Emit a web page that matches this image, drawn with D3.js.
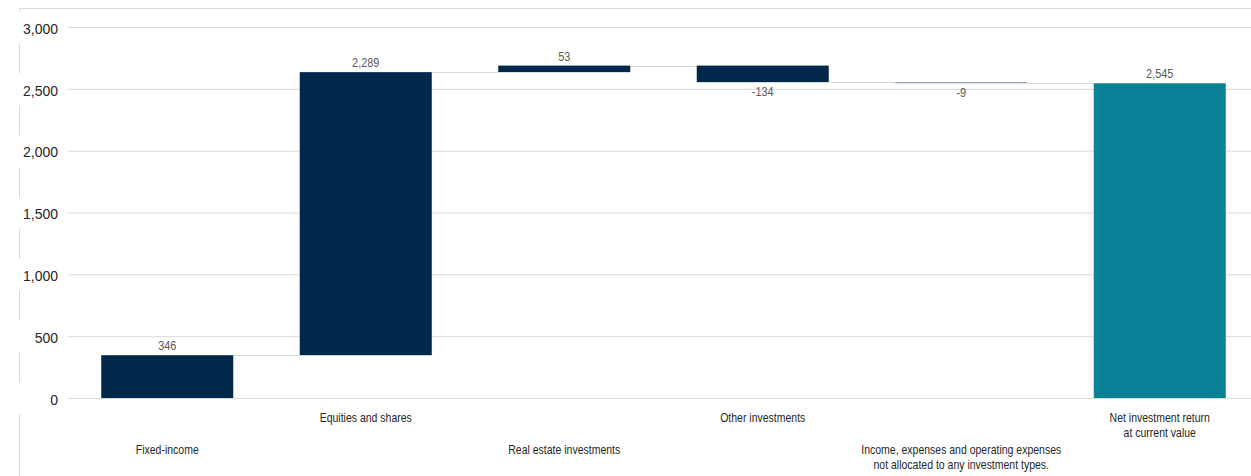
<!DOCTYPE html>
<html>
<head>
<meta charset="utf-8">
<script src="https://cdn.jsdelivr.net/npm/d3@7"></script>
<style>
  html, body { margin: 0; padding: 0; background: #fff; }
  svg { display: block; }
</style>
</head>
<body>
<div id="chart"></div>
<script>
// waterfall: investment return per type, last bar = total
const categories = [
  'Fixed-income',
  'Equities and shares',
  'Real estate investments',
  'Other investments',
  'Income, expenses and operating expenses\nnot allocated to any investment types.',
  'Net investment return\nat current value'
];
const deltas = [346, 2289, 53, -134, -9];
const total = 2545;
const yTicks = [0, 500, 1000, 1500, 2000, 2500, 3000];

const width = 1251, height = 476;
const plotL = 68, plotR = 1259, plotT = 27, plotB = 398;

const NAVY = '#01274a', TEAL = '#0a8196', GRID = '#d9d9d9';
const FONT = '"Liberation Sans", Arial, sans-serif';
const SQUEEZE = 0.84; // source uses a narrow face, fake it
const fmt = d3.formatLocale({ decimal: '.', thousands: ',', grouping: [3], currency: ['', ''], minus: '-' }).format(',');

// build waterfall rows
let run = 0;
const rows = deltas.map((v, i) => {
  const start = run; run += v;
  return { cat: categories[i], v, start, end: run, total: false };
});
rows.push({ cat: categories[5], v: total, start: 0, end: total, total: true });

const svg = d3.select('#chart').append('svg')
  .attr('width', width).attr('height', height);

const x = d3.scaleBand().domain(categories).range([plotL, plotR])
  .paddingInner(0.335).paddingOuter(0.1675);
const y = d3.scaleLinear().domain([0, 3000]).range([plotB, plotT]);
const cx = d => x(d.cat) + x.bandwidth() / 2;

// frame fragments
svg.append('line').attr('x1', 19).attr('x2', width).attr('y1', 8.5).attr('y2', 8.5)
  .attr('stroke', GRID);
svg.append('line').attr('x1', 19.5).attr('x2', 19.5).attr('y1', 8).attr('y2', height)
  .attr('stroke', GRID);

// gridlines + y labels
const ax = svg.append('g').attr('transform', `translate(${plotL},0)`)
  .call(d3.axisLeft(y).tickValues(yTicks).tickSize(-(width - plotL)).tickPadding(10)
    .tickFormat(fmt));
ax.select('.domain').remove();
ax.selectAll('.tick line').attr('stroke', GRID);
ax.selectAll('.tick').insert('rect', 'text')
  .attr('x', -53).attr('y', -16).attr('width', 46).attr('height', 32).attr('fill', '#fff');
ax.selectAll('.tick text').attr('fill', '#262626')
  .attr('font-family', FONT).attr('font-size', '14px')
  .attr('dy', '0.45em');

// connectors
const g = svg.append('g');
rows.slice(0, -1).forEach((d, i) => {
  const nx = rows[i + 1];
  g.append('line')
    .attr('x1', x(d.cat) + x.bandwidth()).attr('x2', x(nx.cat))
    .attr('y1', Math.round(y(d.end)) + 0.5).attr('y2', Math.round(y(d.end)) + 0.5)
    .attr('stroke', GRID).attr('stroke-width', 1.2);
});

// bars
g.selectAll('rect.bar').data(rows).join('rect')
  .attr('class', 'bar')
  .attr('x', d => x(d.cat))
  .attr('width', x.bandwidth())
  .attr('y', d => y(Math.max(d.start, d.end)))
  .attr('height', d => Math.max(1, Math.abs(y(d.start) - y(d.end))))
  .attr('fill', d => d.total ? TEAL : NAVY)
  .attr('opacity', d => Math.abs(d.v) < 20 ? 0.5 : 1);

// value labels
g.selectAll('text.val').data(rows).join('text')
  .attr('class', 'val')
  .attr('transform', d => `translate(${cx(d)},${d.v >= 0 ? y(d.end) - 5 : y(d.end) + 14}) scale(${SQUEEZE},1)`)
  .attr('text-anchor', 'middle')
  .attr('fill', '#595959').attr('font-family', FONT).attr('font-size', '13px')
  .text(d => fmt(d.v));

// category labels, staggered
rows.forEach((d, i) => {
  const lines = d.cat.split('\n');
  const t = svg.append('text')
    .attr('transform', `translate(${cx(d)},${i % 2 ? 422 : 454}) scale(${SQUEEZE},1)`)
    .attr('text-anchor', 'middle')
    .attr('fill', '#262626').attr('font-family', FONT).attr('font-size', '12.5px');
  lines.forEach((s, k) => {
    t.append('tspan').attr('x', 0).attr('dy', k ? 15 : 0).text(s);
  });
});
</script>
</body>
</html>
